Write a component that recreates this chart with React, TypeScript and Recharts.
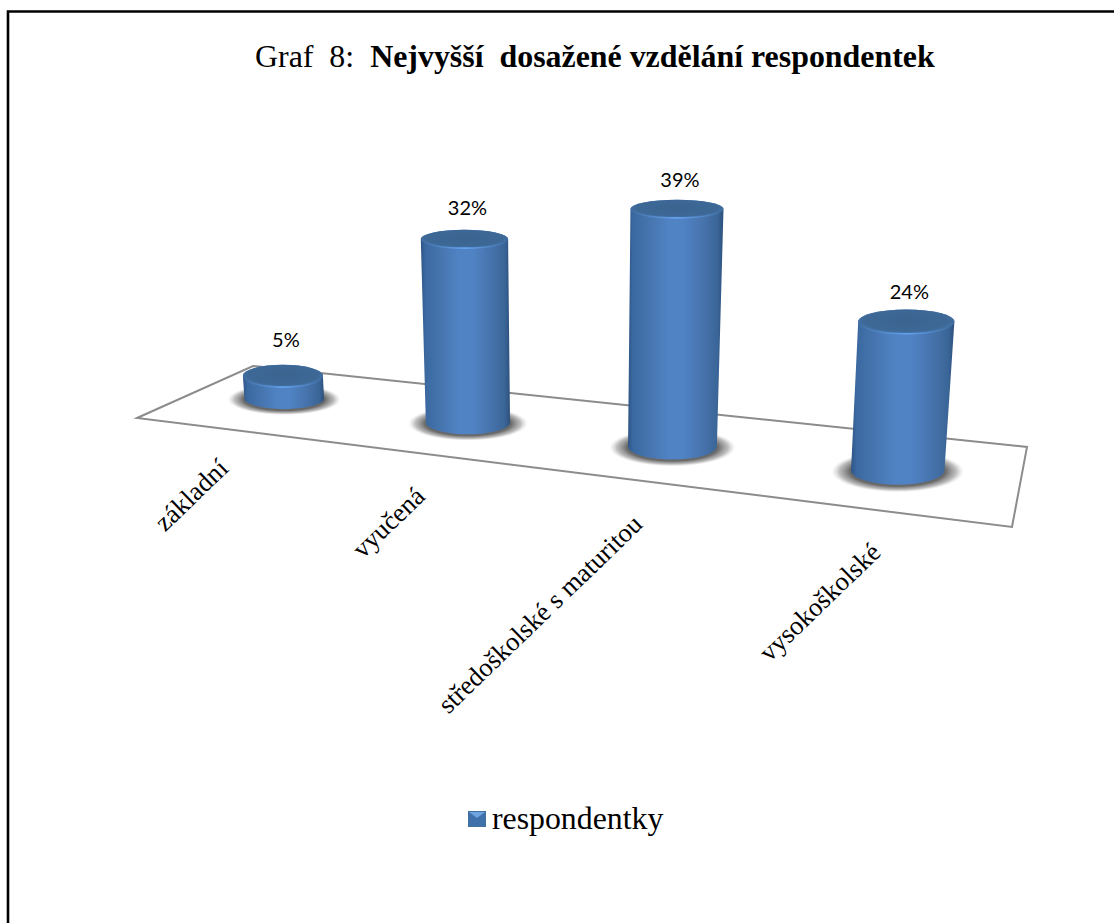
import { BarChart, Bar, XAxis, YAxis, Legend, LabelList } from 'recharts'

const categories = ['základní', 'vyučená', 'středoškolské s maturitou', 'vysokoškolské']
const respondentky = [5, 32, 39, 24]
const seriesName = 'respondentky'

const chartData = categories.map((name, i) => ({ name, value: respondentky[i] }))

const W = 1114
const H = 923
const plotLeft = 158.6
const plotWidth = 818
const plotTop = 195.5
const plotBottom = 435.5
const band = plotWidth / categories.length
const plotCenter = plotLeft + plotWidth / 2

const floor = '137,418 253,366 1027,447 1012,527'
const serif = '"Liberation Serif", "Times New Roman", serif'
const sans = 'Lato, "Open Sans", sans-serif'

// fake 3D: pushes the flat bar from the library's scales through a small perspective
function project(x: number, y: number, width: number, height: number) {
  const u = (x + width / 2 - plotCenter) / band
  const botX = x + width / 2 + 10.4 * u * u
  const floorY = y + height + 24 * u
  const botY = floorY - 1
  const h = height * (1 + 0.0558 * u - 0.03825 * u * u + 0.0128 * u * u * u)
  const topX = botX + 0.038 * h * u
  const topY = floorY - h
  const botW = width + 4.6 * u
  const topW = botW * (1 + h * 0.0002)
  const ratio = (yy: number) => 0.097 + (yy - 209) * 0.00026
  return { u, botX, botY, topX, topY, botRx: botW / 2, topRx: topW / 2, botRy: botW * (ratio(botY) - 0.012), topRy: topW * ratio(topY) }
}

function Cylinder(props: any) {
  const { x, y, width, height } = props
  const p = project(x, y, width, height)
  const body = [
    `M${p.topX - p.topRx},${p.topY}`,
    `L${p.botX - p.botRx},${p.botY}`,
    `A${p.botRx},${p.botRy} 0 0 0 ${p.botX + p.botRx},${p.botY}`,
    `L${p.topX + p.topRx},${p.topY}`,
    `A${p.topRx},${p.topRy} 0 0 0 ${p.topX - p.topRx},${p.topY}`,
    'Z',
  ].join(' ')
  const rim = `M${p.topX - p.topRx},${p.topY} A${p.topRx},${p.topRy} 0 0 0 ${p.topX + p.topRx},${p.topY}`
  return (
    <g>
      <ellipse cx={p.botX} cy={p.botY + 1} rx={p.botRx * 1.42} ry={p.botRy * 1.45} fill="url(#shadowFill)" />
      <path d={body} fill="url(#bodyFill)" />
      <ellipse cx={p.topX} cy={p.topY} rx={p.topRx} ry={p.topRy} fill="url(#capFill)" />
      <path d={rim} fill="none" stroke="url(#rimFill)" strokeWidth={1.6} />
    </g>
  )
}

function ValueLabel(props: any) {
  const { x, y, width, height, value } = props
  const p = project(x, y, width, height)
  return (
    <text x={p.topX + 3} y={p.topY - p.topRy - 14 + 2.2 * p.u} textAnchor="middle" fontFamily={sans} fontSize={20} fill="#000">
      {value}%
    </text>
  )
}

function CategoryTick(props: any) {
  const { x, payload } = props
  const u = (x - plotCenter) / band
  const tx = x + 10.4 * u * u - 35 + 13 * u
  const ty = 512 + 28 * u
  return (
    <text x={tx} y={ty} textAnchor="end" transform={`rotate(-44 ${tx} ${ty})`} fontFamily={serif} fontSize={26.6} fill="#000">
      {payload.value}
    </text>
  )
}

function LegendBox(props: any) {
  const entry = props.payload?.[0]
  return (
    <div style={{ display: 'flex', alignItems: 'center', fontFamily: serif, fontSize: 31.8, lineHeight: '36px', color: '#000' }}>
      <svg width={18} height={16} style={{ marginRight: 6 }}>
        <rect width={18} height={16} fill="#41709f" />
        <rect x={1} y={1} width={16} height={14} fill="#4070aa" />
        <polygon points="1,1 17,1 9,7" fill="#6ea4e0" />
      </svg>
      {entry?.value}
    </div>
  )
}

export default function App() {
  return (
    <div style={{ position: 'absolute', left: 0, top: 0, width: W, height: H, background: '#fff' }}>
      <BarChart
        width={W}
        height={H}
        data={chartData}
        barSize={86.5}
        margin={{ top: plotTop, left: plotLeft, right: W - plotLeft - plotWidth, bottom: H - plotBottom - 30 }}
      >
        <defs>
          <linearGradient id="bodyFill" x1="0" y1="0" x2="1" y2="0">
            <stop offset="0" stopColor="#2e5586" />
            <stop offset="0.05" stopColor="#3a689f" />
            <stop offset="0.22" stopColor="#4674ae" />
            <stop offset="0.42" stopColor="#5083c4" />
            <stop offset="0.58" stopColor="#5083c4" />
            <stop offset="0.8" stopColor="#4672ab" />
            <stop offset="0.94" stopColor="#3a6597" />
            <stop offset="1" stopColor="#2d507c" />
          </linearGradient>
          <radialGradient id="capFill" cx="0.5" cy="0.45" r="0.62">
            <stop offset="0" stopColor="#3b648f" />
            <stop offset="0.7" stopColor="#3d6896" />
            <stop offset="1" stopColor="#4a7db8" />
          </radialGradient>
          <linearGradient id="rimFill" x1="0" y1="0" x2="1" y2="0">
            <stop offset="0" stopColor="#5b97de" stopOpacity={0} />
            <stop offset="0.5" stopColor="#64a2ee" />
            <stop offset="1" stopColor="#5b97de" stopOpacity={0} />
          </linearGradient>
          <radialGradient id="shadowFill">
            <stop offset="0" stopColor="#555" />
            <stop offset="0.72" stopColor="#6a6a6a" />
            <stop offset="0.88" stopColor="#999" stopOpacity={0.65} />
            <stop offset="1" stopColor="#ccc" stopOpacity={0} />
          </radialGradient>
        </defs>
        <path d={`M8 ${H}V11.5H${W}`} fill="none" stroke="#000" strokeWidth={2.6} />
        <text x={255} y={67} fontFamily={serif} fontSize={31.9} fill="#000" style={{ whiteSpace: 'pre' }}>
          {'Graf  8:  '}
          <tspan fontWeight="bold">{'Nejvyšší  dosažené vzdělání respondentek'}</tspan>
        </text>
        <polygon points={floor} fill="none" stroke="#8c8c8c" strokeWidth={2} />
        <XAxis dataKey="name" height={30} axisLine={false} tickLine={false} interval={0} tick={<CategoryTick />} />
        <YAxis hide domain={[0, 40]} />
        <Legend
          layout="horizontal"
          verticalAlign="middle"
          align="center"
          content={<LegendBox />}
          wrapperStyle={{ left: 468, top: 801, width: 'auto' }}
        />
        <Bar dataKey="value" name={seriesName} fill="#4675b0" shape={<Cylinder />} isAnimationActive={false}>
          <LabelList dataKey="value" content={<ValueLabel />} />
        </Bar>
      </BarChart>
    </div>
  )
}
